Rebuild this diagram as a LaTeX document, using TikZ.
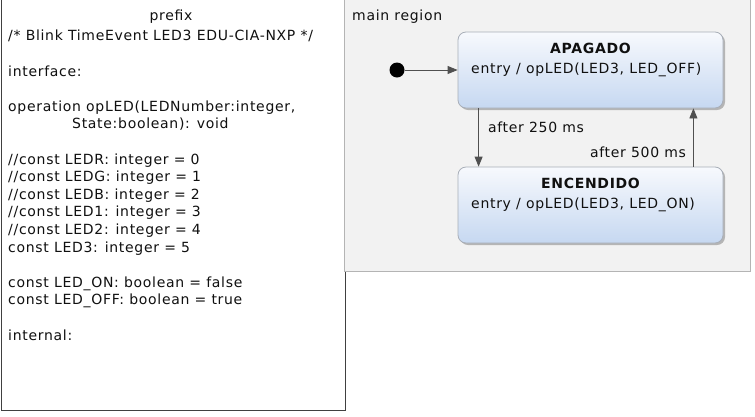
\documentclass[tikz,border=0pt]{standalone}
\usepackage{fontspec}
\setmainfont{DejaVu Sans}[LetterSpace=5]
\usetikzlibrary{arrows.meta,shadows}
\definecolor{txt}{HTML}{101010}
\definecolor{panelborder}{HTML}{404040}
\definecolor{regionfill}{HTML}{F2F2F2}
\definecolor{regionborder}{HTML}{B4B4B4}
\definecolor{statetop}{HTML}{F7F9FD}
\definecolor{statebottom}{HTML}{C6D8F1}
\definecolor{stateborder}{HTML}{A8AEB8}
\definecolor{edgecol}{HTML}{505050}
\begin{document}
\begin{tikzpicture}[x=1pt,y=-1pt,
  every node/.style={text=txt},
  basefont/.style={font=\fontsize{14}{17.6}\selectfont},
  panel/.style={draw=panelborder, line width=1pt, fill=white, anchor=north west, inner sep=0pt},
  region/.style={draw=regionborder, line width=1pt, fill=regionfill, anchor=north west, inner sep=0pt},
  statebox/.style={draw=stateborder, line width=0.8pt, rounded corners=8pt, top color=statetop, bottom color=statebottom,
    minimum width=265pt, minimum height=76pt, inner sep=0pt,
    drop shadow={shadow xshift=2pt, shadow yshift=-2pt, fill=black, opacity=0.25}},
  tr/.style={draw=edgecol, line width=0.8pt, -{Triangle[length=10pt,width=8pt]}},
  lbl/.style={basefont, inner sep=0pt}
]
\useasboundingbox (0,0) rectangle (755,416);
% left panel
\node (panel) [panel, minimum width=344pt, minimum height=411pt] at (1,-1) {};
\node (prefix) [lbl, anchor=center] at (171,16.5) {prefix};
\node (body) [lbl, anchor=north west, align=left] at (8,30) {%
/* Blink TimeEvent LED3 EDU-CIA-NXP */\\
\mbox{}\\
interface:\\
\mbox{}\\
operation opLED(LEDNumber:integer,\\
\hspace*{64pt}State:boolean): void\\
\mbox{}\\
//const LEDR: integer = 0\\
//const LEDG: integer = 1\\
//const LEDB: integer = 2\\
//const LED1: integer = 3\\
//const LED2: integer = 4\\
const LED3: integer = 5\\
\mbox{}\\
const LED\_ON: boolean = false\\
const LED\_OFF: boolean = true\\
\mbox{}\\
internal:};
% main region
\node (region) [region, minimum width=406pt, minimum height=272pt] at (344,-1) {};
\node (regionlabel) [lbl, anchor=west] at (352,16.5) {main region};
% states
\node (apagado) [statebox] at (590.5,70) {};
\node (apagadoname) [lbl, anchor=center, font=\fontsize{14}{16}\selectfont\bfseries] at (590.5,48) {APAGADO};
\node (apagadoentry) [lbl, anchor=west] at (471,70) {entry / opLED(LED3, LED\_OFF)};
\node (encendido) [statebox] at (590.5,205) {};
\node (encendidoname) [lbl, anchor=center, font=\fontsize{14}{16}\selectfont\bfseries] at (590.5,183) {ENCENDIDO};
\node (encendidoentry) [lbl, anchor=west] at (471,205) {entry / opLED(LED3, LED\_ON)};
% initial
\node (init) [circle, fill=black, minimum size=15pt, inner sep=0pt] at (397,70) {};
% transitions
\draw[tr] (init) -- (apagado);
\draw[tr] ([xshift=21pt]apagado.south west) -- ([xshift=21pt]encendido.north west)
  node (t1) [lbl, anchor=west, pos=0.33, xshift=9pt] {after 250 ms};
\draw[tr] ([xshift=-30pt]encendido.north east) -- ([xshift=-30pt]apagado.south east)
  node (t2) [lbl, anchor=east, pos=0.25, xshift=-7pt] {after 500 ms};
\end{tikzpicture}
\end{document}
